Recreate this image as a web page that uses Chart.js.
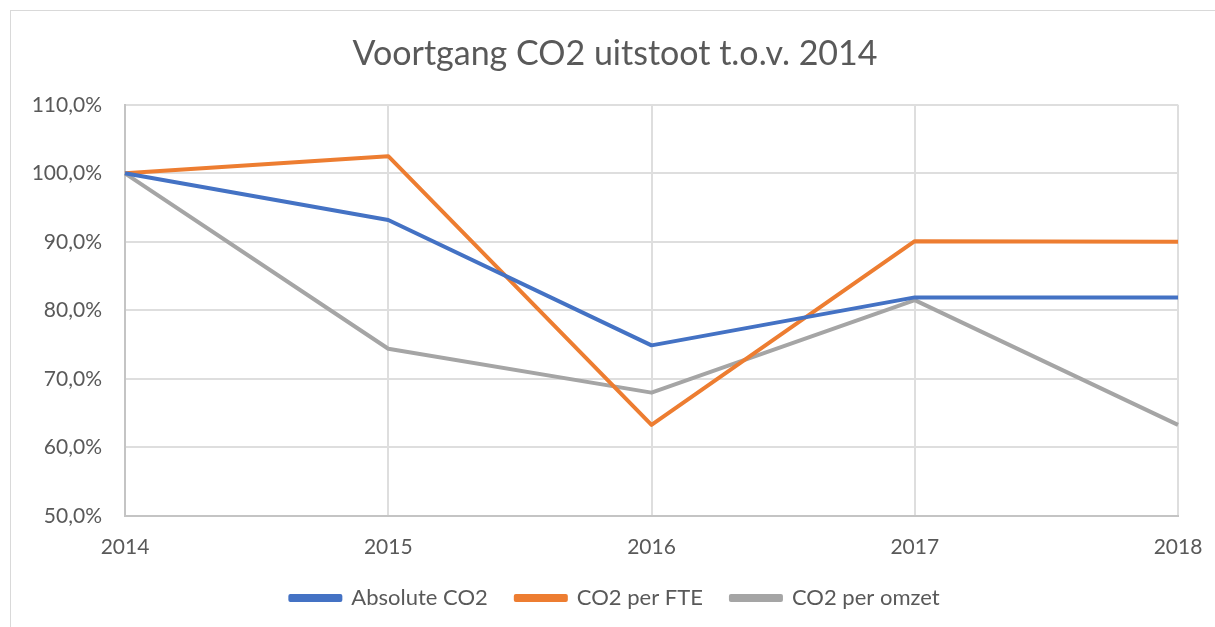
<!DOCTYPE html>
<html>
<head>
  <meta charset="UTF-8" />
  <title>Voortgang CO2 uitstoot</title>
  <script src="https://cdn.jsdelivr.net/npm/chart.js"></script>
  <style>
    html, body { margin: 0; padding: 0; background: #fff; overflow: hidden; }
    #wrap { position: relative; width: 1215px; height: 627px; }
    #frame {
      position: absolute; left: 10px; top: 10px;
      width: 1300px; height: 700px;
      border: 1px solid #d9d9d9;
    }
    #co2Chart { position: absolute; left: 0; top: 0; }
  </style>
</head>
<body>
  <div id="wrap">
    <div id="frame"></div>
    <canvas id="co2Chart" width="1215" height="627"></canvas>
  </div>

  <script>
    const years = ['2014', '2015', '2016', '2017', '2018'];
    const absoluteCO2 = [100.0, 93.2, 74.9, 81.9, 81.9];
    const co2PerFTE = [100.0, 102.5, 63.3, 90.1, 90.0];
    const co2PerOmzet = [100.0, 74.4, 68.0, 81.5, 63.3];
    const yTicks = [50, 60, 70, 80, 90, 100, 110];

    const textColor = '#595959';
    const fontFamily = 'Lato, "Open Sans", sans-serif';

    const ctx = document.getElementById('co2Chart').getContext('2d');
    new Chart(ctx, {
      type: 'line',
      data: {
        labels: years,
        datasets: [
          { label: 'Absolute CO2', data: absoluteCO2, borderColor: '#4472C4', backgroundColor: '#4472C4' },
          { label: 'CO2 per FTE', data: co2PerFTE, borderColor: '#ED7D31', backgroundColor: '#ED7D31' },
          { label: 'CO2 per omzet', data: co2PerOmzet, borderColor: '#A5A5A5', backgroundColor: '#A5A5A5' }
        ]
      },
      options: {
        responsive: false,
        animation: false,
        // left/right padding also centres title and legend like the original
        layout: { padding: { left: 30, right: 15, top: 0, bottom: 8 } },
        elements: {
          line: { borderWidth: 4, tension: 0, borderJoinStyle: 'round' },
          point: { radius: 0 }
        },
        plugins: {
          title: {
            display: true,
            text: 'Voortgang CO2 uitstoot t.o.v. 2014',
            color: textColor,
            font: { family: fontFamily, size: 34, weight: 'normal' },
            padding: { top: 34, bottom: 30 }
          },
          legend: {
            position: 'bottom',
            maxHeight: 66,
            labels: {
              color: textColor,
              font: { family: fontFamily, size: 22 },
              boxWidth: 50,
              boxHeight: 4,
              padding: 28
            }
          },
          tooltip: { enabled: false }
        },
        scales: {
          x: {
            type: 'category',
            offset: false,
            afterFit: (scale) => {
              scale.height = 43;
              scale.paddingRight = 37;
            },
            grid: { color: '#dedede', lineWidth: 2, drawTicks: false, offset: false },
            border: { color: '#c4c4c4', width: 2 },
            ticks: {
              color: textColor,
              font: { family: fontFamily, size: 21 },
              padding: 19,
              maxRotation: 0
            }
          },
          y: {
            min: yTicks[0],
            max: yTicks[yTicks.length - 1],
            afterFit: (scale) => { scale.width = 95; },
            afterBuildTicks: (scale) => { scale.ticks = yTicks.map(v => ({ value: v })); },
            grid: { color: '#dedede', lineWidth: 2, drawTicks: false },
            border: { color: '#c4c4c4', width: 2 },
            ticks: {
              color: textColor,
              font: { family: fontFamily, size: 21 },
              padding: 23,
              callback: (v) => v.toFixed(1).replace('.', ',') + '%'
            }
          }
        }
      }
    });
  </script>
</body>
</html>
